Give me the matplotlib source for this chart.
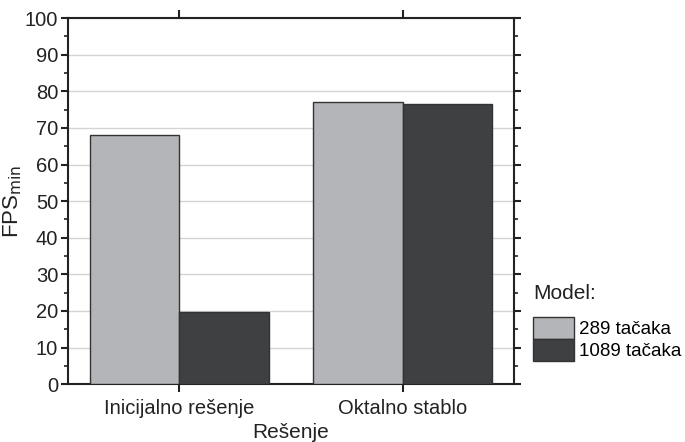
import numpy as np
import matplotlib
matplotlib.use("Agg")
import matplotlib.pyplot as plt
from matplotlib.ticker import MultipleLocator

plt.rcParams['font.family'] = ['Liberation Sans', 'DejaVu Sans']
plt.rcParams['font.size'] = 12

# podaci
categories = ["Inicijalno rešenje", "Oktalno stablo"]
fps_289 = [68.0, 77.2]
fps_1089 = [19.6, 76.5]
series_labels = ["289 tačaka", "1089 tačaka"]

# boje
color_light = "#b4b5b8"
color_dark = "#3f4042"
edge = "#333333"

fig = plt.figure(figsize=(6.85, 4.42), dpi=100)
ax = fig.add_axes([0.099, 0.131, 0.652, 0.828])

x = np.arange(len(categories))
w = 0.4
ax.bar(x - w/2, fps_289, w, color=color_light, edgecolor=edge, lw=1,
       label=series_labels[0], zorder=3)
ax.bar(x + w/2, fps_1089, w, color=color_dark, edgecolor=edge, lw=1,
       label=series_labels[1], zorder=3)

ax.set_xlim(-0.5, 1.5)
ax.set_ylim(0, 100)
ax.set_xticks(x)
ax.set_xticklabels(categories)
ax.yaxis.set_major_locator(MultipleLocator(10))
ax.yaxis.set_minor_locator(MultipleLocator(5))

ax.grid(axis='y', color='#d4d4d4', lw=1, zorder=0)
ax.set_axisbelow(True)

for s in ax.spines.values():
    s.set_linewidth(1.5)
    s.set_color('#222222')

ax.tick_params(axis='y', which='major', direction='out', length=5, width=1.5,
               right=True, colors='#222222', labelcolor='#222222',
               labelsize=14.5, pad=2)
ax.tick_params(axis='y', which='minor', direction='out', length=3, width=1.2,
               right=True, colors='#222222')
ax.tick_params(axis='x', which='major', direction='out', length=6, width=1.5,
               top=True, colors='#222222', labelcolor='#222222',
               labelsize=14.5, pad=5)

ax.set_ylabel(r"FPS$_{\mathrm{min}}$", fontsize=16, color='#222222')
ax.yaxis.set_label_coords(-0.098, 0.5)
ax.set_xlabel("Rešenje", fontsize=15, color='#222222')
ax.xaxis.set_label_coords(0.5, -0.106)

# leyenda con titulo aparte
fig.text(0.778, 0.337, "Model:", fontsize=15, color='#222222',
         ha='left', va='center')
leg = fig.legend(*ax.get_legend_handles_labels(), loc='upper left',
                 bbox_to_anchor=(0.778, 0.283), frameon=False,
                 fontsize=13.5, handlelength=2.2, handleheight=1.4,
                 handletextpad=0.25, labelspacing=0.02,
                 borderpad=0.0, borderaxespad=0.0)

fig.savefig("out.png", dpi=100)
